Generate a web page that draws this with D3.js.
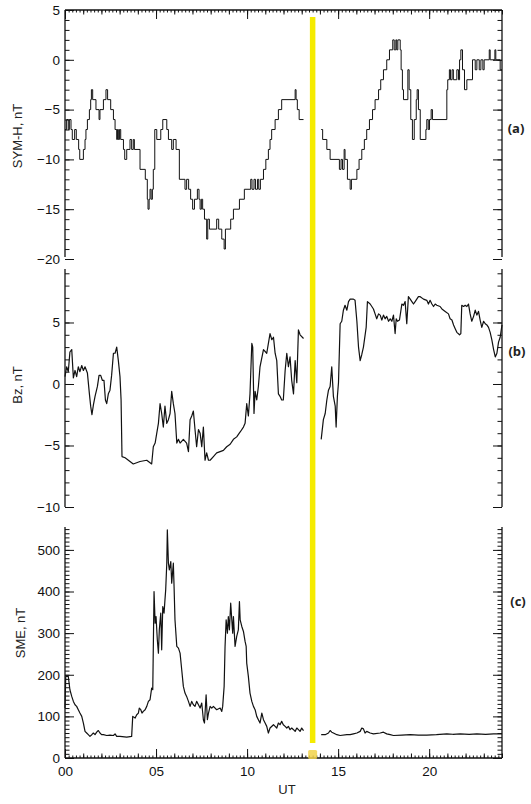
<!DOCTYPE html>
<html>
<head>
<meta charset="utf-8">
<script src="https://cdn.jsdelivr.net/npm/d3@7"></script>
<style>
  body { margin: 0; background: #fff; }
  text { font-family: "Liberation Sans", Arial, sans-serif; }
</style>
</head>
<body>
<svg id="chart" width="531" height="804"></svg>
<script>
// ---- data: [UT hour, value] ----
// SYM-H (nT), 1-min steps, two segments around the data gap
const symh1 = [[0,-7],[0.09,-6],[0.18,-7],[0.24,-6],[0.33,-7],[0.40,-8],[0.53,-7],[0.62,-8],[0.75,-9],[0.81,-10],
  [1.01,-9],[1.10,-8],[1.15,-7],[1.23,-6],[1.34,-5],[1.41,-4],[1.45,-3],[1.52,-4],[1.70,-5],[1.87,-6],[1.92,-5],
  [2.11,-4],[2.25,-3],[2.34,-4],[2.51,-5],[2.66,-6],[2.75,-7],[2.84,-8],[2.88,-7],[2.93,-8],[2.99,-7],[3.06,-8],
  [3.21,-9],[3.28,-10],[3.39,-9],[3.57,-8],[3.66,-9],[3.75,-8],[3.81,-9],[4.12,-11],[4.41,-12],[4.52,-14],[4.56,-15],
  [4.62,-14],[4.67,-13],[4.73,-14],[4.80,-13],[4.85,-11],[4.93,-7],[5.04,-8],[5.26,-7],[5.37,-6],[5.59,-7],[5.68,-8],
  [5.86,-9],[5.95,-8],[6.10,-9],[6.28,-12],[6.59,-13],[6.68,-12],[6.79,-13],[6.90,-14],[7.01,-15],[7.11,-14],
  [7.27,-13],[7.36,-14],[7.42,-15],[7.49,-14],[7.56,-15],[7.66,-16],[7.78,-18],[7.84,-16],[7.93,-17],[8.33,-16],
  [8.44,-17],[8.61,-18],[8.74,-19],[8.81,-17],[9.10,-16],[9.25,-15],[9.58,-14],[9.85,-13],[10.20,-12],[10.27,-13],
  [10.38,-12],[10.46,-13],[10.57,-12],[10.64,-13],[10.73,-12],[10.90,-11],[11.03,-10],[11.17,-9],[11.26,-8],
  [11.35,-7],[11.54,-6],[11.72,-5],[11.90,-4],[12.64,-3],[12.69,-4],[12.76,-5],[12.86,-6],[13.10,-6]];
const symh2 = [[14.07,-7],[14.15,-8],[14.38,-9],[14.56,-10],[15.07,-11],[15.16,-10],[15.24,-11],[15.33,-9],
  [15.38,-10],[15.51,-12],[15.66,-13],[15.73,-12],[16.03,-11],[16.15,-10],[16.30,-9],[16.44,-8],[16.57,-7],
  [16.72,-6],[16.89,-5],[17.03,-4],[17.22,-3],[17.34,-2],[17.49,-1],[17.67,0],[17.82,1],[18.00,2],[18.08,1],
  [18.17,2],[18.22,1],[18.28,2],[18.41,1],[18.46,-1],[18.53,-3],[18.59,-4],[18.83,-1],[18.90,-3],[18.99,-6],
  [19.08,-8],[19.18,-6],[19.29,-4],[19.34,-3],[19.41,-5],[19.51,-8],[19.82,-7],[19.87,-6],[19.95,-7],[20.02,-6],
  [20.11,-5],[20.18,-6],[20.97,-3],[21.02,-2],[21.11,-1],[21.17,-2],[21.26,-1],[21.33,-2],[21.52,-1],[21.61,-2],
  [21.67,0],[21.74,1],[21.83,-1],[21.94,-3],[22.07,-2],[22.38,0],[22.53,-1],[22.62,0],[22.75,-1],[22.84,0],
  [22.95,-1],[23.02,0],[23.30,1],[23.35,0],[23.61,1],[23.66,0],[23.90,-1],[24.0,-1]];

// IMF Bz (nT)
const bz1 = [[0,0.6],[0.09,1.4],[0.18,1.0],[0.27,2.6],[0.37,2.8],[0.46,0.5],[0.55,1.1],[0.64,0.6],[0.73,1.4],
  [0.82,1.0],[0.92,1.5],[1.01,1.1],[1.10,1.4],[1.23,0.9],[1.34,-0.8],[1.41,-1.8],[1.48,-2.5],[1.56,-1.7],[1.65,-1.0],
  [1.78,-0.2],[1.87,0.7],[1.96,0.7],[2.05,0.3],[2.14,0.3],[2.22,-1.3],[2.29,-1.6],[2.38,-0.8],[2.47,-0.5],[2.56,0.7],
  [2.66,2.5],[2.75,2.5],[2.84,3.0],[2.93,1.9],[3.02,0.6],[3.08,-1.3],[3.13,-5.9],[3.30,-6.0],[3.57,-6.3],[3.75,-6.5],
  [4.12,-6.3],[4.49,-6.2],[4.67,-6.4],[4.76,-6.5],[4.85,-5.1],[4.95,-4.8],[5.04,-4.0],[5.13,-3.2],[5.22,-1.6],
  [5.31,-2.4],[5.40,-3.5],[5.49,-1.8],[5.59,-3.2],[5.68,-2.9],[5.77,-2.4],[5.86,-0.6],[5.95,-1.6],[6.04,-2.4],
  [6.14,-4.8],[6.23,-4.5],[6.32,-4.8],[6.50,-4.5],[6.68,-4.8],[6.78,-5.5],[6.87,-2.9],[6.96,-2.6],[7.05,-2.2],
  [7.14,-3.7],[7.23,-5.1],[7.33,-3.7],[7.42,-4.0],[7.51,-5.1],[7.60,-3.5],[7.69,-6.2],[7.78,-5.6],[7.88,-6.2],
  [7.97,-6.2],[8.15,-5.9],[8.33,-5.6],[8.52,-5.5],[8.70,-5.4],[8.88,-5.1],[9.07,-4.9],[9.25,-4.5],[9.43,-4.3],
  [9.62,-3.9],[9.80,-3.5],[9.89,-3.2],[9.98,-1.6],[10.07,-2.6],[10.16,-0.8],[10.26,3.3],[10.31,3.0],[10.38,-2.4],
  [10.44,-0.6],[10.53,-1.3],[10.62,-0.2],[10.71,1.4],[10.90,2.8],[11.08,2.5],[11.17,3.3],[11.26,4.1],[11.36,3.6],
  [11.45,3.8],[11.54,2.5],[11.63,1.9],[11.72,-0.8],[11.81,-1.0],[11.90,-1.3],[11.99,-1.3],[12.09,1.1],[12.18,2.5],
  [12.27,1.4],[12.36,2.2],[12.45,0.3],[12.55,-0.8],[12.64,1.9],[12.73,0.1],[12.82,4.4],[12.91,4.0],[13.10,3.7]];
const bz2 = [[14.07,-4.5],[14.19,-2.9],[14.29,-2.4],[14.38,-1.3],[14.47,-0.5],[14.56,-0.2],[14.65,1.4],[14.74,-1.0],
  [14.84,-1.8],[14.89,-3.5],[14.96,-1.0],[15.02,0.1],[15.11,4.9],[15.20,5.1],[15.29,6.0],[15.38,6.4],[15.48,6.0],
  [15.57,6.7],[15.66,6.9],[15.84,6.9],[15.93,6.8],[16.03,5.1],[16.12,3.0],[16.21,1.9],[16.30,2.4],[16.39,3.0],
  [16.54,4.6],[16.61,6.7],[16.76,6.5],[16.94,6.1],[17.03,5.7],[17.12,5.3],[17.22,5.7],[17.31,5.6],[17.40,5.2],
  [17.49,5.6],[17.58,5.3],[17.67,5.5],[17.77,5.1],[17.86,5.3],[17.95,5.1],[18.04,5.6],[18.13,4.1],[18.19,5.3],
  [18.26,5.1],[18.37,5.2],[18.50,6.5],[18.59,6.4],[18.68,6.7],[18.77,4.9],[18.86,7.1],[18.96,6.9],[19.05,6.7],
  [19.14,6.5],[19.23,6.7],[19.41,7.1],[19.51,7.1],[19.69,6.9],[19.87,6.8],[19.96,6.5],[20.05,6.8],[20.15,6.5],
  [20.24,6.3],[20.33,6.5],[20.42,6.4],[20.60,6.3],[20.70,6.1],[20.79,6.0],[20.88,5.9],[21.06,5.7],[21.15,5.3],
  [21.25,5.2],[21.34,4.8],[21.43,4.5],[21.52,4.2],[21.67,4.0],[21.74,4.1],[21.79,6.4],[21.89,6.3],[21.98,6.4],
  [22.07,6.3],[22.16,6.5],[22.25,5.7],[22.34,5.1],[22.44,5.5],[22.53,6.0],[22.62,5.6],[22.71,5.9],[22.80,5.2],
  [22.89,4.6],[22.99,5.1],[23.08,4.9],[23.17,4.8],[23.26,4.6],[23.35,4.2],[23.44,3.6],[23.54,2.8],[23.63,2.2],
  [23.72,2.5],[23.81,3.4],[23.90,3.8],[24.0,4.8]];

// SME index (nT)
const sme1 = [[0,120],[0.04,196],[0.18,196],[0.27,164],[0.37,148],[0.46,136],[0.55,128],[0.64,124],[0.73,116],
  [0.82,108],[0.92,100],[1.01,84],[1.10,64],[1.19,60],[1.28,56],[1.37,52],[1.47,56],[1.56,60],[1.65,56],[1.74,62],
  [1.83,66],[1.92,60],[2.01,56],[2.11,56],[2.29,54],[2.47,55],[2.66,54],[2.75,58],[2.84,52],[3.02,52],[3.39,50],
  [3.66,52],[3.72,100],[3.85,96],[3.94,104],[4.03,108],[4.08,120],[4.16,116],[4.23,108],[4.30,112],[4.40,116],
  [4.49,124],[4.58,136],[4.67,140],[4.76,168],[4.82,164],[4.89,400],[4.95,324],[5.00,340],[5.07,284],[5.13,252],
  [5.18,308],[5.26,348],[5.31,260],[5.37,364],[5.44,348],[5.49,380],[5.53,404],[5.59,468],[5.62,548],[5.68,468],
  [5.73,452],[5.81,472],[5.86,420],[5.92,452],[5.95,468],[5.99,412],[6.04,332],[6.14,268],[6.23,264],[6.32,252],
  [6.41,212],[6.50,172],[6.59,156],[6.68,148],[6.78,136],[6.87,124],[6.96,136],[7.05,128],[7.14,124],[7.23,136],
  [7.33,128],[7.42,120],[7.51,132],[7.60,92],[7.66,84],[7.75,152],[7.82,92],[7.88,108],[7.97,124],[8.06,120],
  [8.15,124],[8.33,116],[8.52,120],[8.61,112],[8.66,124],[8.74,172],[8.79,268],[8.85,332],[8.92,300],[8.97,340],
  [9.03,308],[9.10,372],[9.16,332],[9.21,300],[9.25,340],[9.34,268],[9.43,292],[9.52,308],[9.58,376],[9.62,332],
  [9.71,316],[9.80,304],[9.89,280],[9.95,268],[9.98,228],[10.07,196],[10.16,156],[10.26,136],[10.35,124],
  [10.44,116],[10.53,100],[10.62,92],[10.71,84],[10.81,108],[10.90,92],[10.99,84],[11.08,76],[11.17,60],[11.26,72],
  [11.45,80],[11.54,76],[11.63,72],[11.72,84],[11.81,80],[11.90,88],[11.99,80],[12.09,76],[12.18,72],[12.27,76],
  [12.36,68],[12.45,72],[12.55,68],[12.64,64],[12.73,72],[12.82,68],[12.91,64],[13.00,72],[13.10,66]];
const sme2 = [[14.07,56],[14.29,56],[14.47,60],[14.56,66],[14.65,62],[14.74,60],[14.93,56],[15.11,54],[15.48,56],
  [15.66,56],[15.84,58],[16.03,60],[16.21,64],[16.30,72],[16.39,70],[16.48,60],[16.57,64],[16.76,60],[16.94,58],
  [17.31,60],[17.49,62],[17.67,58],[17.86,56],[18.04,54],[18.50,55],[18.96,56],[19.40,55],[19.87,55],[20.40,56],
  [20.97,58],[21.30,57],[21.70,58],[22.20,57],[22.62,58],[23.10,57],[23.54,58],[24.0,58]];

const hourTicks = [0, 5, 10, 15, 20];
const hourLabels = ["00", "05", "10", "15", "20"];
const eventHour = 13.6;

// ---- drawing ----
const svg = d3.select("#chart");
const x = d3.scaleLinear().domain([0, 24]).range([65, 502]);
const xl = 65, xr = 502;

const panels = [
  { segs: [symh1, symh2], step: true, title: "SYM-H, nT", tag: "(a)",
    y: d3.scaleLinear().domain([-20, 5]).range([259, 10]), top: 10, bottom: 257,
    major: d3.range(-20, 6, 5), minor: d3.range(-20, 6, 1), titlePos: [17, 136], tagPos: [516, 128] },
  { segs: [bz1, bz2], step: false, title: "Bz, nT", tag: "(b)",
    y: d3.scaleLinear().domain([-10, 9.3]).range([507, 269.6]), top: 269, bottom: 507,
    major: d3.range(-10, 6, 5), minor: d3.range(-10, 10, 1), titlePos: [17, 385], tagPos: [517, 351] },
  { segs: [sme1, sme2], step: false, title: "SME, nT", tag: "(c)",
    y: d3.scaleLinear().domain([0, 555]).range([758, 527]), top: 527, bottom: 758,
    major: d3.range(0, 501, 100), minor: d3.range(0, 551, 10), titlePos: [20, 633], tagPos: [518, 601] }
];

panels.forEach(p => {
  const g = svg.append("g");
  // minor ticks left / right
  g.append("g").attr("transform", `translate(${xl},0)`)
    .call(d3.axisLeft(p.y).tickValues(p.minor).tickSize(-4.5).tickFormat(""));
  g.append("g").attr("transform", `translate(${xr},0)`)
    .call(d3.axisRight(p.y).tickValues(p.minor).tickSize(-4.5).tickFormat(""));
  // major ticks with labels
  g.append("g").attr("transform", `translate(${xl},0)`)
    .call(d3.axisLeft(p.y).tickValues(p.major).tickSize(-9).tickPadding(5).tickFormat(d3.format("d")));
  g.append("g").attr("transform", `translate(${xr},0)`)
    .call(d3.axisRight(p.y).tickValues(p.major).tickSize(-9).tickFormat(""));
  g.selectAll(".domain").remove();
  g.selectAll(".tick line").attr("stroke", "#111");
  g.selectAll(".tick text").attr("font-size", 13.5).attr("fill", "#111")
    .style("font-family", "'Liberation Sans', Arial, sans-serif");

  // frame sides
  g.append("line").attr("x1", xl).attr("x2", xl).attr("y1", p.top).attr("y2", p.bottom)
    .attr("stroke", "#111").attr("stroke-width", 1.3);
  g.append("line").attr("x1", xr).attr("x2", xr).attr("y1", p.top).attr("y2", p.bottom)
    .attr("stroke", "#111").attr("stroke-width", 1.3);

  const line = d3.line().x(d => x(d[0])).y(d => p.y(d[1]));
  if (p.step) line.curve(d3.curveStepAfter);
  p.segs.forEach(s => {
    g.append("path").datum(s).attr("d", line)
      .attr("fill", "none").attr("stroke", "#111")
      .attr("stroke-width", p.step ? 1 : 1.2).attr("stroke-linejoin", "round");
  });

  g.append("text")
    .attr("transform", `translate(${p.titlePos[0]},${p.titlePos[1]}) rotate(-90)`)
    .attr("text-anchor", "middle").attr("dominant-baseline", "central")
    .attr("font-size", 13).attr("fill", "#222").text(p.title);

  g.append("text").attr("x", p.tagPos[0]).attr("y", p.tagPos[1])
    .attr("text-anchor", "middle").attr("dominant-baseline", "central")
    .attr("font-size", 13).attr("font-weight", "bold").attr("fill", "#222")
    .style("font-family", "'Open Sans', 'Liberation Sans', sans-serif").text(p.tag);
});

// time axes: top of panel (a) and bottom of panel (c)
function timeAxis(axisFn, yPos, withLabels) {
  const g = svg.append("g").attr("transform", `translate(0,${yPos})`);
  g.append("g").call(axisFn(x).tickValues(d3.range(0, 24.01, 0.2)).tickSize(-2.5).tickFormat(""));
  g.append("g").call(axisFn(x).tickValues(d3.range(0, 25, 1)).tickSize(-4.5).tickFormat(""));
  g.append("g").call(axisFn(x).tickValues(hourTicks).tickSize(-9).tickPadding(8)
    .tickFormat(withLabels ? (d, i) => hourLabels[i] : ""));
  g.selectAll(".domain").remove();
  g.selectAll(".tick line").attr("stroke", "#111");
  g.selectAll(".tick text").attr("font-size", 13.5).attr("fill", "#111")
    .style("font-family", "'Liberation Sans', Arial, sans-serif");
  g.append("line").attr("x1", xl).attr("x2", xr).attr("stroke", "#111").attr("stroke-width", 1.3);
  return g;
}
timeAxis(d3.axisTop, 10, false);
timeAxis(d3.axisBottom, 758, true);

svg.append("text").attr("x", 287).attr("y", 789)
  .attr("text-anchor", "middle").attr("dominant-baseline", "central")
  .attr("font-size", 13).attr("fill", "#222").text("UT");

// event marker
svg.append("line")
  .attr("x1", x(eventHour)).attr("x2", x(eventHour))
  .attr("y1", 17).attr("y2", 743)
  .attr("stroke", "#f5eb00").attr("stroke-width", 5.5);
svg.append("rect")
  .attr("x", x(eventHour) - 4.5).attr("y", 750).attr("width", 9).attr("height", 9).attr("rx", 1.5)
  .attr("fill", "#f1d24a").attr("opacity", 0.85);
</script>
</body>
</html>
